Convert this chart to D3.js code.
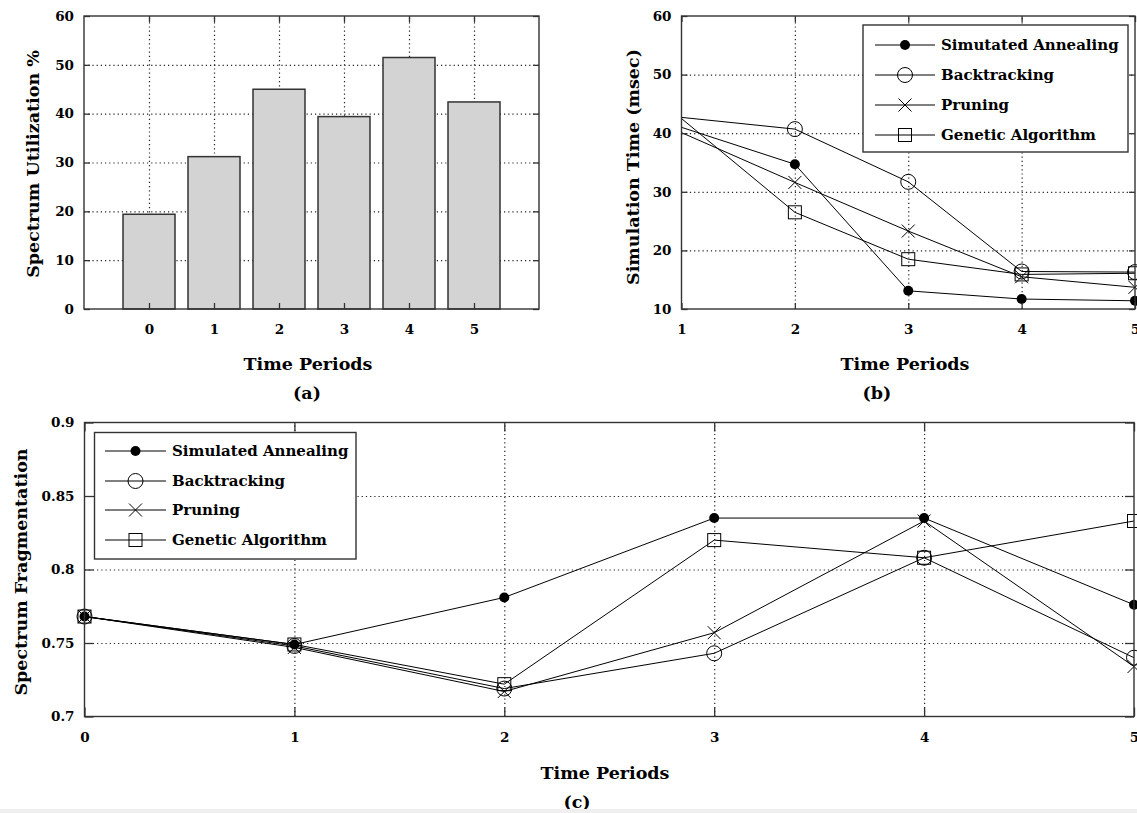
<!DOCTYPE html>
<html>
<head>
<meta charset="utf-8">
<script src="https://cdn.jsdelivr.net/npm/d3@7"></script>
<style>
  body { margin: 0; background: #fff; }
  text { font-family: "DejaVu Serif", serif; font-weight: bold; fill: #000; }
  .axis text { font-size: 13.5px; }
  .axis line { stroke: #333; stroke-width: 1.3; }
  .axis .domain { display: none; }
  .grid line { stroke: #222; stroke-width: 1.2; stroke-dasharray: 1.2 3; }
  .grid .domain { display: none; }
  .title { font-size: 17.5px; }
  .legend text { font-size: 15px; }
</style>
</head>
<body>
<svg id="fig" width="1137" height="813"></svg>
<script>
// (a) spectrum utilization per time period
const periodsA = [0, 1, 2, 3, 4, 5];
const utilization = [19.4, 31.2, 45.0, 39.4, 51.5, 42.4];
const yTicksA = [0, 10, 20, 30, 40, 50, 60];

// (b) simulation time (msec)
const periodsB = [1, 2, 3, 4, 5];
const timeSA = [41.0, 34.7, 13.1, 11.7, 11.4];
const timeBT = [42.7, 40.7, 31.7, 16.4, 16.3];
const timePR = [40.1, 31.6, 23.3, 15.5, 13.7];
const timeGA = [42.5, 26.5, 18.5, 15.9, 16.1];
const yTicksB = [10, 20, 30, 40, 50, 60];
const legendB = ["Simutated Annealing", "Backtracking", "Pruning", "Genetic Algorithm"];

// (c) spectrum fragmentation
const periodsC = [0, 1, 2, 3, 4, 5];
const fragSA = [0.768, 0.749, 0.781, 0.835, 0.835, 0.776];
const fragBT = [0.768, 0.748, 0.719, 0.743, 0.808, 0.740];
const fragPR = [0.768, 0.747, 0.717, 0.757, 0.833, 0.734];
const fragGA = [0.768, 0.749, 0.722, 0.820, 0.808, 0.833];
const yTicksC = [0.7, 0.75, 0.8, 0.85, 0.9];
const legendC = ["Simulated Annealing", "Backtracking", "Pruning", "Genetic Algorithm"];

const markers = ["dot", "circle", "cross", "square"];

const svg = d3.select("#fig");

function drawMarker(g, type, cx, cy) {
  if (type === "dot") {
    g.append("circle").attr("cx", cx).attr("cy", cy).attr("r", 5).attr("fill", "#000");
  } else if (type === "circle") {
    g.append("circle").attr("cx", cx).attr("cy", cy).attr("r", 7.5)
      .attr("fill", "none").attr("stroke", "#000").attr("stroke-width", 1);
  } else if (type === "cross") {
    const r = 6.5;
    g.append("path").attr("d", `M${cx - r},${cy - r}L${cx + r},${cy + r}M${cx - r},${cy + r}L${cx + r},${cy - r}`)
      .attr("stroke", "#000").attr("stroke-width", 1).attr("fill", "none");
  } else {
    const r = 6.5;
    g.append("rect").attr("x", cx - r).attr("y", cy - r).attr("width", 2 * r).attr("height", 2 * r)
      .attr("fill", "none").attr("stroke", "#000").attr("stroke-width", 1);
  }
}

function drawPanel(cfg, content) {
  const x = d3.scaleLinear().domain(cfg.xDomain).range([cfg.left, cfg.right]);
  const y = d3.scaleLinear().domain(cfg.yDomain).range([cfg.bottom, cfg.top]);
  const w = cfg.right - cfg.left, h = cfg.bottom - cfg.top;
  const g = svg.append("g");

  // dotted grid on the inner ticks only
  const innerX = cfg.xTicks.filter(t => t > cfg.xDomain[0] && t < cfg.xDomain[1]);
  const innerY = cfg.yTicks.filter(t => t > cfg.yDomain[0] + 1e-9 && t < cfg.yDomain[1] - 1e-9);
  g.append("g").attr("class", "grid").attr("transform", `translate(0,${cfg.bottom})`)
    .call(d3.axisBottom(x).tickValues(innerX).tickSize(-h).tickFormat(""));
  g.append("g").attr("class", "grid").attr("transform", `translate(${cfg.left},0)`)
    .call(d3.axisLeft(y).tickValues(innerY).tickSize(-w).tickFormat(""));

  content(g.append("g"), x, y);

  // inward ticks on all four sides
  const tl = cfg.tickLen;
  g.append("g").attr("class", "axis").attr("transform", `translate(0,${cfg.bottom})`)
    .call(d3.axisBottom(x).tickValues(cfg.xTicks).tickSizeInner(-tl).tickSizeOuter(0)
      .tickPadding(cfg.xPad).tickFormat(d3.format("d")));
  g.append("g").attr("class", "axis").attr("transform", `translate(0,${cfg.top})`)
    .call(d3.axisTop(x).tickValues(cfg.xTicks).tickSizeInner(-tl).tickSizeOuter(0).tickFormat(""));
  g.append("g").attr("class", "axis").attr("transform", `translate(${cfg.left},0)`)
    .call(d3.axisLeft(y).tickValues(cfg.yTicks).tickSizeInner(-tl).tickSizeOuter(0)
      .tickPadding(10).tickFormat(cfg.yFormat));
  g.append("g").attr("class", "axis").attr("transform", `translate(${cfg.right},0)`)
    .call(d3.axisRight(y).tickValues(cfg.yTicks).tickSizeInner(-tl).tickSizeOuter(0).tickFormat(""));

  g.append("rect").attr("x", cfg.left).attr("y", cfg.top).attr("width", w).attr("height", h)
    .attr("fill", "none").attr("stroke", "#333").attr("stroke-width", 1.4);

  g.append("text").attr("class", "title").attr("x", cfg.xTitle[0]).attr("y", cfg.xTitle[1])
    .attr("text-anchor", "middle").text("Time Periods");
  g.append("text").attr("class", "title").attr("x", cfg.caption[0]).attr("y", cfg.caption[1])
    .attr("text-anchor", "middle").text(cfg.captionText);
  g.append("text").attr("class", "title")
    .attr("transform", `translate(${cfg.yTitle[0]},${cfg.yTitle[1]}) rotate(-90)`)
    .attr("text-anchor", "middle").attr("dy", "0.35em").text(cfg.yTitleText);
  return g;
}

function drawSeries(g, x, y, periods, seriesList, markFrom) {
  const line = d3.line().x((d, i) => x(periods[i])).y(d => y(d));
  seriesList.forEach(vals => {
    g.append("path").datum(vals).attr("d", line)
      .attr("fill", "none").attr("stroke", "#000").attr("stroke-width", 1);
  });
  seriesList.forEach((vals, k) => {
    vals.forEach((v, i) => {
      if (i >= markFrom) drawMarker(g, markers[k], x(periods[i]), y(v));
    });
  });
}

function drawLegend(box, rows, labels) {
  const g = svg.append("g").attr("class", "legend");
  g.append("rect").attr("x", box.x0).attr("y", box.y0)
    .attr("width", box.x1 - box.x0).attr("height", box.y1 - box.y0)
    .attr("fill", "#fff").attr("stroke", "#333").attr("stroke-width", 1.4);
  labels.forEach((lab, k) => {
    const ry = rows[k];
    g.append("line").attr("x1", box.l0).attr("x2", box.l1).attr("y1", ry).attr("y2", ry)
      .attr("stroke", "#000").attr("stroke-width", 1);
    drawMarker(g, markers[k], (box.l0 + box.l1) / 2, ry);
    g.append("text").attr("x", box.tx).attr("y", ry).attr("dy", "0.35em").text(lab);
  });
}

// panel (a)
drawPanel({
  left: 84, right: 539, top: 16, bottom: 309,
  xDomain: [-1, 6], yDomain: [0, 60], xTicks: periodsA, yTicks: yTicksA,
  tickLen: 6, xPad: 15, yFormat: d3.format("d"),
  xTitle: [308, 370], caption: [307, 399], captionText: "(a)",
  yTitle: [33, 164], yTitleText: "Spectrum Utilization %"
}, (g, x, y) => {
  g.selectAll("rect").data(utilization).enter().append("rect")
    .attr("x", (d, i) => x(periodsA[i] - 0.4))
    .attr("width", (d, i) => x(periodsA[i] + 0.4) - x(periodsA[i] - 0.4))
    .attr("y", d => y(d))
    .attr("height", d => y(0) - y(d))
    .attr("fill", "#d3d3d3").attr("stroke", "#333").attr("stroke-width", 1.5);
});

// panel (b) - no markers at the first period
drawPanel({
  left: 681.5, right: 1135, top: 16, bottom: 309,
  xDomain: [1, 5], yDomain: [10, 60], xTicks: periodsB, yTicks: yTicksB,
  tickLen: 6, xPad: 15, yFormat: d3.format("d"),
  xTitle: [905, 370], caption: [877, 399], captionText: "(b)",
  yTitle: [633, 167], yTitleText: "Simulation Time (msec)"
}, (g, x, y) => {
  drawSeries(g, x, y, periodsB, [timeSA, timeBT, timePR, timeGA], 1);
});
drawLegend({ x0: 863, x1: 1128, y0: 25, y1: 152, l0: 875, l1: 935, tx: 941 },
  [45, 75, 105, 135], legendB);

// panel (c)
drawPanel({
  left: 84.5, right: 1134, top: 422.5, bottom: 716.5,
  xDomain: [0, 5], yDomain: [0.7, 0.9], xTicks: periodsC, yTicks: yTicksC,
  tickLen: 9, xPad: 16, yFormat: d3.format(".2~f"),
  xTitle: [605, 779], caption: [577, 808], captionText: "(c)",
  yTitle: [21, 572], yTitleText: "Spectrum Fragmentation"
}, (g, x, y) => {
  drawSeries(g, x, y, periodsC, [fragSA, fragBT, fragPR, fragGA], 0);
});
drawLegend({ x0: 94.5, x1: 356, y0: 432.5, y1: 559, l0: 105, l1: 166, tx: 172 },
  [451, 481, 510, 540], legendC);

svg.append("rect").attr("x", 0).attr("y", 809).attr("width", 1137).attr("height", 4).attr("fill", "#efefef");
</script>
</body>
</html>
